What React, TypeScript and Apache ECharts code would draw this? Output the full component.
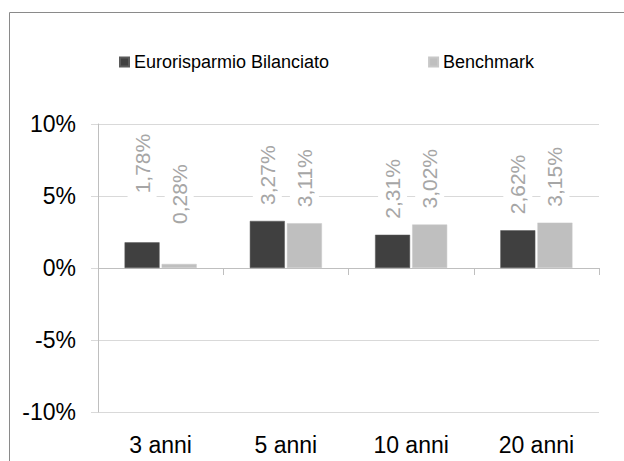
import React, { useEffect, useRef } from "react";
import * as echarts from "echarts";

const categories = ["3 anni", "5 anni", "10 anni", "20 anni"];
const fundName = "Eurorisparmio Bilanciato";
const benchName = "Benchmark";
const fundValues = [1.78, 3.27, 2.31, 2.62];
const benchValues = [0.28, 3.11, 3.02, 3.15];
const yTicks = [-10, -5, 0, 5, 10];

const FONT = "'Liberation Sans', Arial, sans-serif";

export default function App() {
  const ref = useRef<HTMLDivElement>(null);
  useEffect(() => {
    document.body.style.margin = "0";
    const chart = echarts.init(ref.current!, null, { renderer: "svg" });
    const fmt = (v: number) => v.toFixed(2).replace(".", ",") + "%";
    const labelBase = {
      show: true,
      position: "top",
      rotate: 90,
      align: "left",
      verticalAlign: "middle",
      distance: 12,
      color: "#a6a6a6",
      fontSize: 21,
      fontFamily: FONT,
      backgroundColor: "#ffffff",
      padding: [4, 4],
      formatter: (p: any) => fmt(p.value),
    };
    const firstDist = [45, 36];
    const mk = (vals: number[], si: number) =>
      vals.map((v, i) =>
        i === 0 ? { value: v, label: { distance: firstDist[si] } } : { value: v }
      );
    chart.setOption({
      animation: false,
      backgroundColor: "#ffffff",
      graphic: [
        {
          type: "rect",
          shape: { x: 9.5, y: 12.5, width: 800, height: 600 },
          style: { fill: "none", stroke: "#8a8a8a", lineWidth: 1 },
          silent: true,
        },
      ],
      legend: {
        left: 119,
        top: 53,
        padding: 0,
        icon: "rect",
        itemWidth: 9,
        itemHeight: 9,
        itemGap: 99,
        textStyle: { fontSize: 18, fontFamily: FONT, color: "#000" },
        data: [fundName, benchName],
      },
      grid: { left: 98, right: 25, top: 124, bottom: 49, containLabel: false },
      xAxis: [
        {
          type: "category",
          data: categories,
          position: "bottom",
          axisLine: { show: false, onZero: false },
          axisTick: { show: false },
          axisLabel: { fontSize: 23, fontFamily: FONT, color: "#000", margin: 21 },
          splitLine: { show: false },
        },
        {
          type: "category",
          data: categories,
          position: "bottom",
          axisLine: { show: true, onZero: true, lineStyle: { color: "#bfbfbf", width: 1 } },
          axisTick: { show: true, length: 7, lineStyle: { color: "#bfbfbf" } },
          axisLabel: { show: false },
          splitLine: { show: false },
        },
      ],
      yAxis: {
        type: "value",
        min: yTicks[0],
        max: yTicks[yTicks.length - 1],
        interval: 5,
        axisLine: { show: true, lineStyle: { color: "#bfbfbf" } },
        axisTick: { show: true, length: 7, lineStyle: { color: "#d9d9d9" } },
        axisLabel: {
          fontSize: 23,
          fontFamily: FONT,
          color: "#000",
          margin: 22,
          formatter: (v: number) => v + "%",
        },
        splitLine: { show: true, lineStyle: { color: "#d9d9d9", width: 1 } },
      },
      series: [
        {
          name: fundName,
          type: "bar",
          xAxisIndex: 0,
          data: mk(fundValues, 0),
          barWidth: 35,
          barGap: "6%",
          itemStyle: { color: "#404040", borderColor: "#5a5a5a", borderWidth: 0.5 },
          label: labelBase,
          z: 3,
        },
        {
          name: benchName,
          type: "bar",
          xAxisIndex: 0,
          data: mk(benchValues, 1),
          barWidth: 35,
          barGap: "6%",
          itemStyle: { color: "#bfbfbf", borderColor: "#c8c8c8", borderWidth: 0.5 },
          label: labelBase,
          z: 3,
        },
      ],
    });
    return () => chart.dispose();
  }, []);
  return (
    <div
      ref={ref}
      style={{ position: "fixed", left: 0, top: 0, width: 624, height: 461 }}
    />
  );
}
